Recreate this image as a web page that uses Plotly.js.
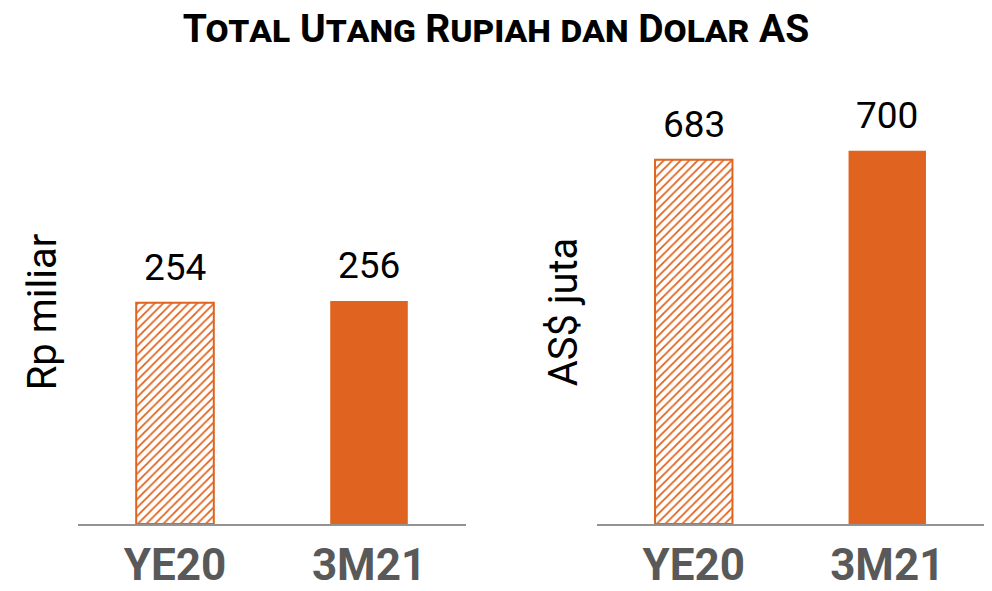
<!DOCTYPE html>
<html>
<head>
<meta charset="utf-8">
<script src="https://cdn.plot.ly/plotly-3.0.1.min.js"></script>
<style>
html,body{margin:0;padding:0;background:#fff;}
#chart{width:992px;height:591px;}
</style>
</head>
<body>
<div id="chart"></div>
<script>
const categories = ["YE20", "3M21"];
const rupiahValues = [254, 256];
const dollarValues = [683, 700];
const chartTitle = "Total Utang Rupiah dan Dolar AS";
const leftAxisTitle = "Rp miliar";
const rightAxisTitle = "AS$ juta";

const ORANGE = "#E0631F";
const NARROW = "Roboto, 'DejaVu Sans', sans-serif";
const TITLEFONT = "Roboto, 'DejaVu Sans', sans-serif";

function barTrace(values, xa, ya) {
  return {
    type: "bar",
    x: categories,
    y: values,
    xaxis: xa,
    yaxis: ya,
    marker: {
      color: [ORANGE, ORANGE],
      line: {color: ORANGE, width: [2, 0]},
      pattern: {
        shape: ["/", ""],
        fgcolor: ORANGE,
        bgcolor: "#ffffff",
        size: 6,
        solidity: 0.3,
        fillmode: "replace"
      }
    },
    hoverinfo: "x+y",
    showlegend: false
  };
}

function labels(values, xa, ya) {
  return values.map((v, i) => ({
    x: categories[i], y: v, xref: xa, yref: ya,
    text: String(v), showarrow: false,
    yanchor: "bottom", yshift: 12,
    font: {family: NARROW, size: 37, color: "#000"}
  }));
}

const xCommon = {
  type: "category",
  range: [-0.5, 1.5],
  showline: true,
  linecolor: "#939393",
  linewidth: 2,
  showgrid: false,
  zeroline: false,
  ticks: "",
  ticklabelstandoff: 1,
  tickfont: {family: "Roboto, 'Open Sans', sans-serif", size: 44, color: "#595959", weight: "bold"},
  fixedrange: true
};
const yCommon = {
  showgrid: false,
  zeroline: false,
  showline: false,
  showticklabels: false,
  ticks: "",
  automargin: false,
  fixedrange: true
};

const layout = {
  width: 992,
  height: 591,
  margin: {l: 0, r: 0, t: 0, b: 0},
  paper_bgcolor: "#ffffff",
  plot_bgcolor: "#ffffff",
  bargap: 0.6,
  title: {
    text: chartTitle,
    font: {family: TITLEFONT, size: 39, color: "#000", weight: "bold", variant: "small-caps"},
    x: 0.5, xanchor: "center",
    y: 0.952, yanchor: "middle"
  },
  xaxis: Object.assign({}, xCommon, {domain: [78/992, 466/992], anchor: "y"}),
  yaxis: Object.assign({}, yCommon, {domain: [67/591, 491/591], range: [0, 487], anchor: "x",
    title: {text: leftAxisTitle, standoff: 8, font: {family: NARROW, size: 40, color: "#000"}}}),
  xaxis2: Object.assign({}, xCommon, {domain: [597/992, 984/992], anchor: "y2"}),
  yaxis2: Object.assign({}, yCommon, {domain: [67/591, 491/591], range: [0, 795], anchor: "x2",
    title: {text: rightAxisTitle, standoff: 6, font: {family: NARROW, size: 40, color: "#000"}}}),
  annotations: labels(rupiahValues, "x", "y").concat(labels(dollarValues, "x2", "y2"))
};

Plotly.newPlot("chart", [barTrace(rupiahValues, "x", "y"), barTrace(dollarValues, "x2", "y2")], layout, {displayModeBar: false, staticPlot: true});
</script>
</body>
</html>
